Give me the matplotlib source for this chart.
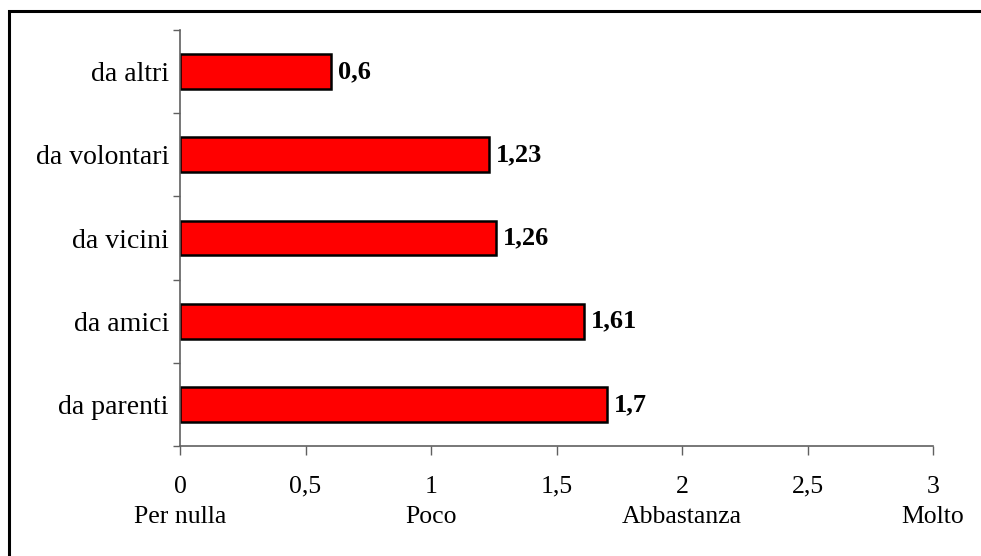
import matplotlib
matplotlib.use("Agg")
from matplotlib import pyplot as plt
from matplotlib.patches import Rectangle
from matplotlib.transforms import blended_transform_factory
import numpy as np

categories = ["da parenti", "da amici", "da vicini", "da volontari", "da altri"]
values = [1.7, 1.61, 1.26, 1.23, 0.6]
value_labels = ["1,7", "1,61", "1,26", "1,23", "0,6"]
x_ticks = [0, 0.5, 1, 1.5, 2, 2.5, 3]
x_tick_labels = ["0", "0,5", "1", "1,5", "2", "2,5", "3"]
scale_pos = [0, 1, 2, 3]
scale_words = ["Per nulla", "Poco", "Abbastanza", "Molto"]

plt.rcParams["font.family"] = ["Liberation Serif", "DejaVu Serif"]

fig = plt.figure(figsize=(9.81, 5.56), dpi=100)
ax = fig.add_axes([180 / 981, 1 - 446 / 556, (933 - 180) / 981, (446 - 30) / 556])

y = np.arange(len(categories))
ax.barh(y, values, height=0.42, color="#ff0000", edgecolor="black", linewidth=1.8)

for yi, v, lab in zip(y, values, value_labels):
    ax.text(v + 0.028, yi, lab, va="center", ha="left", fontsize=19, fontweight="bold")

ax.set_xlim(0, 3)
ax.set_ylim(-0.5, len(categories) - 0.5)

ax.set_xticks(x_ticks)
ax.set_xticklabels(x_tick_labels, fontsize=18.5, va="baseline")
ax.tick_params(axis="x", direction="out", length=6.5, width=1, color="#606060", pad=27.3)

# second row of x labels (verbal scale)
trans = blended_transform_factory(ax.transData, fig.transFigure)
for xp, w in zip(scale_pos, scale_words):
    ax.text(xp, 1 - 523 / 556, w, transform=trans, ha="center", va="baseline",
            fontsize=18.5, clip_on=False)

ax.set_yticks(np.arange(-0.5, len(categories), 1.0))
ax.set_yticklabels([])
ax.set_yticks(y, minor=True)
ax.set_yticklabels(categories, minor=True, fontsize=20)
ax.tick_params(axis="y", which="major", direction="out", length=5, width=1, color="#606060")
ax.tick_params(axis="y", which="minor", length=0, pad=8)

for side in ["top", "right"]:
    ax.spines[side].set_visible(False)
for side in ["left", "bottom"]:
    ax.spines[side].set_color("#606060")
    ax.spines[side].set_linewidth(1.2)

# outer frame, partially cut by the image edge
fig.patches.append(Rectangle((9 / 981, -0.05), 1.1, 1 - 11 / 556 + 0.05,
                             transform=fig.transFigure, fill=False,
                             edgecolor="black", linewidth=2.2))

fig.savefig("out.png", dpi=100)
